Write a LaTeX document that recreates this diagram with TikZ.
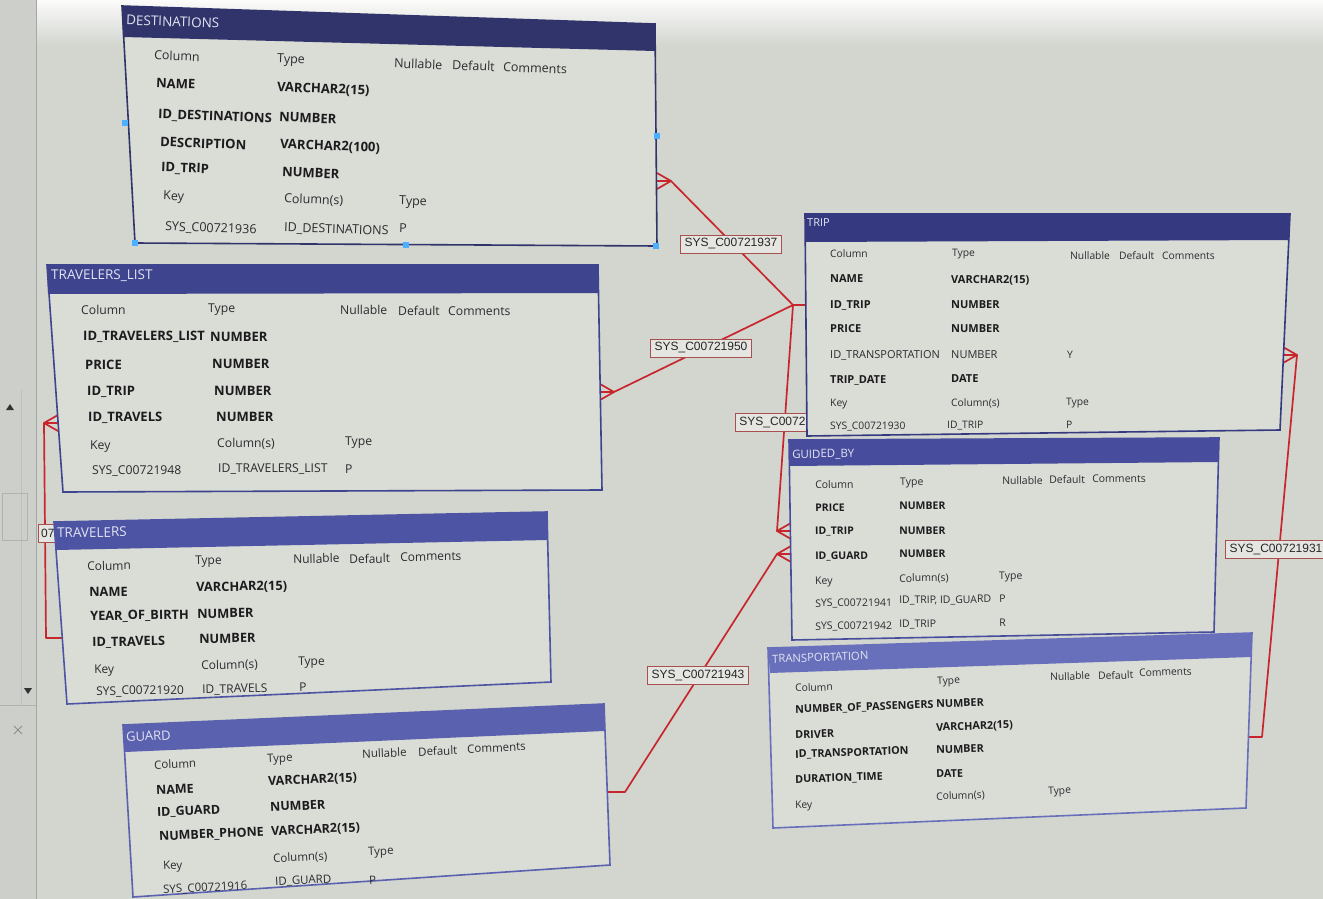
\documentclass[tikz,border=0pt]{standalone}
\usepackage{fontspec}
\setmainfont{Open Sans}
\newfontfamily\lblfont{Liberation Sans}
\usetikzlibrary{calc}
\definecolor{bgc}{HTML}{D3D6CF}
\definecolor{bodyc}{HTML}{DADCD6}
\definecolor{panelc}{HTML}{CDD0CA}
\definecolor{relc}{HTML}{C8262C}
\definecolor{lblborder}{HTML}{A85050}
\definecolor{lblfill}{HTML}{E5E6E1}
\definecolor{rowtxt}{HTML}{1C1C1E}
\definecolor{hdtxt}{HTML}{2C2C30}
\definecolor{titletxt}{HTML}{E2E3F0}
\definecolor{hDest}{HTML}{30346A}
\definecolor{hTL}{HTML}{3E448E}
\definecolor{hTrv}{HTML}{4D54A4}
\definecolor{hGuard}{HTML}{5A61AF}
\definecolor{hTrip}{HTML}{353A80}
\definecolor{hGB}{HTML}{474D9C}
\definecolor{hTr}{HTML}{6870BC}
\newcounter{tn}
\newcommand\txi[5]{\node[#2] (#1) at (#3,#4) {#5};}
\newcommand\tx[4][b]{\stepcounter{tn}\edef\tnname{t\arabic{tn}}\expandafter\txi\expandafter{\tnname}{#1}{#2}{#3}{#4}}
\newcommand\tablequad[8]{%
  \coordinate (#1-tl) at (#2); \coordinate (#1-tr) at (#3);
  \coordinate (#1-br) at (#4); \coordinate (#1-bl) at (#5);
  \coordinate (#1-hl) at (#6); \coordinate (#1-hr) at (#7);
  \fill[bodyc] (#1-tl) -- (#1-tr) -- (#1-br) -- (#1-bl) -- cycle;
  \fill[#8] (#1-tl) -- (#1-tr) -- (#1-hr) -- (#1-hl) -- cycle;
  \draw[draw=#8, line width=1.6pt] (#1-tl) -- (#1-tr) -- (#1-br) -- (#1-bl) -- cycle;}
\newcommand\crow[2]{\draw[rel] (#1) -- ++(#2*14,-8) (#1) -- ++(#2*14,0) (#1) -- ++(#2*14,8);}
\def\rs{11}\def\hs{10}\def\ts{10.5}\def\rot{0}
\begin{document}
\begin{tikzpicture}[x=1pt,y=-1pt,
  b/.style={anchor=west, inner sep=0pt, text=rowtxt, font=\fontsize{\rs}{\rs}\selectfont\bfseries, rotate=\rot},
  r/.style={anchor=west, inner sep=0pt, text=hdtxt, font=\fontsize{\rs}{\rs}\selectfont, rotate=\rot},
  h/.style={anchor=west, inner sep=0pt, text=hdtxt, font=\fontsize{\hs}{\hs}\selectfont, rotate=\rot},
  ti/.style={anchor=west, inner sep=0pt, text=titletxt, font=\fontsize{\ts}{\ts}\selectfont, rotate=\rot},
  rel/.style={draw=relc, line width=1.7pt, line cap=round, line join=round},
  lbl/.style={draw=lblborder, fill=lblfill, line width=0.9pt, inner xsep=4pt, inner ysep=0pt,
    minimum height=18pt, text=black!85, font=\lblfont\fontsize{12}{12}\selectfont},
  handle/.style={fill=blue!45!cyan!70!white, draw=none}]
\useasboundingbox (0,0) rectangle (1323,899);
\fill[bgc] (0,0) rectangle (1323,899);
\shade[top color=white!92!bgc, bottom color=bgc] (0,0) rectangle (1323,45);

% ---------- connector anchor points ----------
\coordinate (jn) at (793,305);
\coordinate (tripW) at (806,305);
\coordinate (destC) at (671,181);
\coordinate (tlC) at (614,392);
\coordinate (gbC1) at (777,531);
\coordinate (gbC2) at (777,554);
\coordinate (guardE) at (607,792);
\coordinate (guardB) at (625,792);
\coordinate (trE) at (1248,737);
\coordinate (trB) at (1262,737);
\coordinate (tripC) at (1297,355);
\coordinate (trvW) at (62,638);
\coordinate (trvB) at (46,638);
\coordinate (tlC2) at (44,423);

% ---------- connectors ----------
\draw[rel] (destC) -- (jn) -- (tripW);
\draw[rel] (jn) -- (tlC);
\draw[rel] (jn) -- (gbC1);
\draw[rel] (guardE) -- (guardB) -- (gbC2);
\draw[rel] (trE) -- (trB) -- (tripC);
\draw[rel] (trvW) -- (trvB) -- (tlC2);
\crow{destC}{-1}
\crow{tlC}{-1}
\crow{gbC1}{1}
\crow{gbC2}{1}
\crow{tripC}{-1}
\crow{tlC2}{1}

% ---------- connector labels ----------
\node[lbl] (l37) at (731,244) {SYS\_C00721937};
\node[lbl] (l50) at (701,348) {SYS\_C00721950};
\node[lbl, anchor=west] (l42) at (735,422) {SYS\_C00721942};
\node[lbl] (l43) at (698,675) {SYS\_C00721943};
\node[lbl] (l31) at (1276,549) {SYS\_C00721931};

% ---------- left UI panel ----------
\fill[panelc] (0,0) rectangle (36,899);
\draw[black!35, line width=0.8pt] (36,0) -- (36,899);
\draw[black!25, line width=0.8pt] (21,390) -- (21,705);
\draw[black!30, line width=0.8pt] (0,705) -- (36,705);
\draw[black!30, line width=0.8pt] (2,493) rectangle (27,540);
\fill[black!80] (6,410) -- (14,410) -- (10,404) -- cycle;
\fill[black!80] (24,688) -- (32,688) -- (28,694) -- cycle;
\draw[black!45, line width=0.9pt] (14,726) -- (22,734) (22,726) -- (14,734);
\node[lbl, anchor=east, inner xsep=3pt] (l49) at (58,533) {07};

% ---------- TRAVELERS_LIST ----------
\begin{scope}
\def\rs{13}\def\hs{12.2}\def\ts{13.5}\def\rot{0}
\tablequad{tl}{47,265}{598,265}{602,490}{63,492}{48,294}{598,293}{hTL}
\tx[ti]{51}{276}{TRAVELERS\_LIST}
\tx[h]{81}{310}{Column}\tx[h]{208}{310}{Type}\tx[h]{340}{310}{Nullable}\tx[h]{398}{311}{Default}\tx[h]{448}{311}{Comments}
\tx{83}{337}{ID\_TRAVELERS\_LIST}\tx{210}{337}{NUMBER}
\tx{85}{365}{PRICE}\tx{212}{364}{NUMBER}
\tx{87}{392}{ID\_TRIP}\tx{214}{391}{NUMBER}
\tx{88}{418}{ID\_TRAVELS}\tx{216}{417}{NUMBER}
\tx[h]{90}{447}{Key}\tx[h]{217}{444}{Column(s)}\tx[h]{345}{443}{Type}
\tx[h]{92}{471}{SYS\_C00721948}\tx[h]{218}{469}{ID\_TRAVELERS\_LIST}\tx[h]{345}{469}{P}
\end{scope}

% ---------- TRAVELERS ----------
\begin{scope}
\def\rs{12.8}\def\hs{12}\def\ts{13.5}\def\rot{1}
\tablequad{trv}{54,522}{547,512}{551,682}{67,704}{56,550}{548,540}{hTrv}
\tx[ti]{57}{533}{TRAVELERS}
\tx[h]{87}{566}{Column}\tx[h]{195}{562}{Type}\tx[h]{293}{559}{Nullable}\tx[h]{349}{559}{Default}\tx[h]{400}{557}{Comments}
\tx{89}{592}{NAME}\tx{196}{588}{VARCHAR2(15)}
\tx{90}{617}{YEAR\_OF\_BIRTH}\tx{197}{614}{NUMBER}
\tx{92}{643}{ID\_TRAVELS}\tx{199}{639}{NUMBER}
\tx[h]{94}{671}{Key}\tx[h]{201}{666}{Column(s)}\tx[h]{298}{663}{Type}
\tx[h]{96}{692}{SYS\_C00721920}\tx[h]{202}{690}{ID\_TRAVELS}\tx[h]{299}{687}{P}
\end{scope}

% ---------- DESTINATIONS ----------
\begin{scope}
\def\rs{13}\def\hs{12.5}\def\ts{13.5}\def\rot{-2}
\tablequad{dest}{122,6}{655,24}{657,246}{135,243}{123,37}{655,51}{hDest}
\tx[ti]{126}{20}{DESTINATIONS}
\tx[h]{154}{55}{Column}\tx[h]{277}{60}{Type}\tx[h]{394}{63}{Nullable}\tx[h]{452}{65}{Default}\tx[h]{503}{67}{Comments}
\tx{156}{83}{NAME}\tx{277}{88}{VARCHAR2(15)}
\tx{158}{115}{ID\_DESTINATIONS}\tx{279}{117}{NUMBER}
\tx{160}{142}{DESCRIPTION}\tx{280}{145}{VARCHAR2(100)}
\tx{161}{168}{ID\_TRIP}\tx{282}{172}{NUMBER}
\tx[h]{163}{197}{Key}\tx[h]{284}{199}{Column(s)}\tx[h]{399}{202}{Type}
\tx[h]{165}{227}{SYS\_C00721936}\tx[h]{284}{228}{ID\_DESTINATIONS}\tx[h]{399}{228}{P}
\fill[handle] (122,120) rectangle (128,126);
\fill[handle] (654,133) rectangle (660,139);
\fill[handle] (132,240) rectangle (138,246);
\fill[handle] (403,242) rectangle (409,248);
\fill[handle] (653,243) rectangle (659,249);
\end{scope}

% ---------- GUARD ----------
\begin{scope}
\def\rs{12.5}\def\hs{11.5}\def\ts{13}\def\rot{2.5}
\tablequad{guard}{123,725}{604,704}{610,865}{133,897}{125,752}{604,731}{hGuard}
\tx[ti]{126}{737}{GUARD}
\tx[h]{154}{765}{Column}\tx[h]{267}{760}{Type}\tx[h]{362}{754}{Nullable}\tx[h]{418}{752}{Default}\tx[h]{467}{749}{Comments}
\tx{156}{790}{NAME}\tx{268}{782}{VARCHAR2(15)}
\tx{157}{813}{ID\_GUARD}\tx{270}{807}{NUMBER}
\tx{159}{837}{NUMBER\_PHONE}\tx{271}{832}{VARCHAR2(15)}
\tx[h]{163}{867}{Key}\tx[h]{273}{859}{Column(s)}\tx[h]{368}{853}{Type}
\tx[h]{163}{890}{SYS\_C00721916}\tx[h]{275}{882}{ID\_GUARD}\tx[h]{369}{880}{P}
\end{scope}

% ---------- TRIP ----------
\begin{scope}
\def\rs{11}\def\hs{10.3}\def\ts{11}\def\rot{0}
\tablequad{trip}{805,214}{1290,214}{1280,430}{807,436}{806,242}{1289,240}{hTrip}
\tx[ti]{807}{223}{TRIP}
\tx[h]{830}{254}{Column}\tx[h]{952}{254}{Type}\tx[h]{1070}{256}{Nullable}\tx[h]{1119}{256}{Default}\tx[h]{1162}{256}{Comments}
\tx{830}{279}{NAME}\tx{951}{280}{VARCHAR2(15)}
\tx{830}{305}{ID\_TRIP}\tx{951}{305}{NUMBER}
\tx{830}{329}{PRICE}\tx{951}{329}{NUMBER}
\tx[r]{830}{355}{ID\_TRANSPORTATION}\tx[r]{951}{355}{NUMBER}\tx[h]{1067}{355}{Y}
\tx{830}{380}{TRIP\_DATE}\tx{951}{379}{DATE}
\tx[h]{830}{404}{Key}\tx[h]{951}{403}{Column(s)}\tx[h]{1066}{403}{Type}
\tx[h]{830}{427}{SYS\_C00721930}\tx[h]{947}{426}{ID\_TRIP}\tx[h]{1066}{425}{P}
\end{scope}

% ---------- GUIDED_BY ----------
\begin{scope}
\def\rs{10.5}\def\hs{10.5}\def\ts{11.5}\def\rot{0.8}
\tablequad{gb}{789,440}{1219,438}{1214,632}{792,640}{790,466}{1218,462}{hGB}
\tx[ti]{792}{455}{GUIDED\_BY}
\tx[h]{815}{485}{Column}\tx[h]{900}{483}{Type}\tx[h]{1002}{481}{Nullable}\tx[h]{1049}{480}{Default}\tx[h]{1092}{479}{Comments}
\tx{815}{508}{PRICE}\tx{899}{506}{NUMBER}
\tx{815}{532}{ID\_TRIP}\tx{899}{531}{NUMBER}
\tx{815}{557}{ID\_GUARD}\tx{899}{554}{NUMBER}
\tx[h]{815}{582}{Key}\tx[h]{899}{579}{Column(s)}\tx[h]{999}{577}{Type}
\tx[h]{815}{604}{SYS\_C00721941}\tx[h]{899}{601}{ID\_TRIP, ID\_GUARD}\tx[h]{999}{599}{P}
\tx[h]{815}{627}{SYS\_C00721942}\tx[h]{899}{625}{ID\_TRIP}\tx[h]{999}{623}{R}
\end{scope}

% ---------- TRANSPORTATION ----------
\begin{scope}
\def\rs{10.8}\def\hs{10.3}\def\ts{11.3}\def\rot{2}
\tablequad{tr}{768,648}{1252,633}{1246,808}{773,828}{770,673}{1251,657}{hTr}
\tx[ti]{772}{659}{TRANSPORTATION}
\tx[h]{795}{688}{Column}\tx[h]{937}{682}{Type}\tx[h]{1050}{677}{Nullable}\tx[h]{1098}{676}{Default}\tx[h]{1139}{673}{Comments}
\tx{795}{710}{NUMBER\_OF\_PASSENGERS}\tx{936}{704}{NUMBER}
\tx{795}{735}{DRIVER}\tx{936}{728}{VARCHAR2(15)}
\tx{795}{755}{ID\_TRANSPORTATION}\tx{936}{750}{NUMBER}
\tx{795}{780}{DURATION\_TIME}\tx{936}{774}{DATE}
\tx[h]{795}{806}{Key}\tx[h]{936}{797}{Column(s)}\tx[h]{1048}{792}{Type}
\end{scope}
\end{tikzpicture}
\end{document}
